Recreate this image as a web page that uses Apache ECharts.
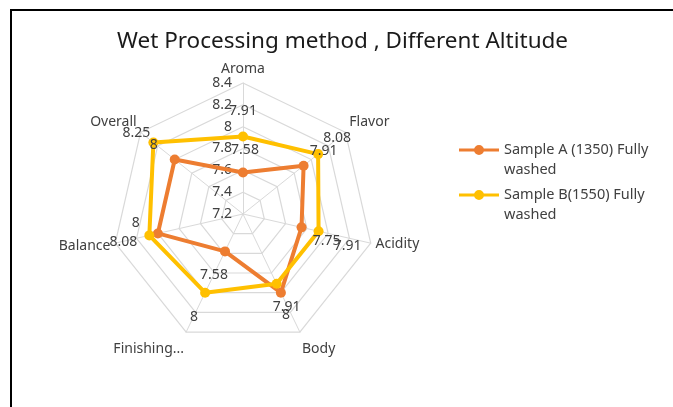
<!DOCTYPE html>
<html>
<head>
<meta charset="utf-8">
<script src="https://cdn.jsdelivr.net/npm/echarts@6/dist/echarts.min.js"></script>
<style>
  html, body { margin: 0; padding: 0; background: #fff; }
  #chart { width: 673px; height: 407px; }
</style>
</head>
<body>
<div id="chart"></div>
<script>
// Cupping attributes, in clockwise order starting at the top
const attributes = ['Aroma', 'Flavor', 'Acidity', 'Body', 'Finishing...', 'Balance', 'Overall'];
const sampleA = [7.58, 7.91, 7.75, 8, 7.58, 8, 8];
const sampleB = [7.91, 8.08, 7.91, 7.91, 8, 8.08, 8.25];
const seriesNames = ['Sample A (1350) Fully\nwashed', 'Sample B(1550) Fully\nwashed'];
const axisMin = 7.2;
const axisMax = 8.4;
const axisSplits = 6;

// Hand-placed value-label nudges (px), per sample, per attribute
const labelNudgeA = [[2, -23], [20, -15], [25, 14], [5, 22], [-11, 24], [-22, -10], [-21, -15]];
const labelNudgeB = [[0, -25], [19, -16], [29, 15], [10, 23], [-11, 24], [-26, 7], [-17, -10]];

// Per-attribute name spacing (rich text padding: top, right, bottom, left)
const namePadding = [[4, 0, 0, 0], [0, 0, 14, 0], [0, 0, 0, 0], [24, 0, 0, 0], [24, 0, 0, 0], [4, 0, 0, 0], [0, 0, 14, 0]];

const colors = ['#ED7D31', '#FFC000'];
const CX = 243, CY = 214, R = 131;
const FONT = 'Noto Sans';

// ECharts lays radar indicators out counter-clockwise, so feed them reversed after the first
function clockwise(arr) { return [arr[0]].concat(arr.slice(1).reverse()); }

const indicators = clockwise(attributes).map(function (name, i) {
  const ind = { name: name, min: axisMin, max: axisMax };
  if (i === 0) {
    ind.axisLabel = {
      show: true, color: '#404040', fontSize: 14, fontFamily: FONT, margin: 11,
      formatter: function (v) { return String(+(+v).toFixed(2)); }
    };
  }
  return ind;
});

const nameRich = {};
attributes.forEach(function (name, i) {
  nameRich['n' + i] = { color: '#404040', fontSize: 14, fontFamily: FONT, padding: namePadding[i] };
});

const nudges = [labelNudgeA, labelNudgeB];
const step = Math.PI * 2 / attributes.length;

const legendIcon = 'path://M0,4H40V7H0Z M15,5.5A5,5,0,1,1,25,5.5A5,5,0,1,1,15,5.5Z';

const chart = echarts.init(document.getElementById('chart'));
chart.setOption({
  animation: false,
  backgroundColor: '#fff',
  color: colors,
  title: {
    text: 'Wet Processing method , Different Altitude',
    left: 112,
    top: 25,
    textStyle: { fontFamily: FONT, fontSize: 22.5, fontWeight: 'normal', color: '#1a1a1a' }
  },
  legend: {
    orient: 'vertical',
    left: 459,
    top: 120,
    padding: 0,
    itemGap: -15,
    itemWidth: 40,
    itemHeight: 11,
    itemStyle: { borderWidth: 0 },
    data: [
      { name: seriesNames[0], icon: legendIcon, itemStyle: { color: colors[0] } },
      { name: seriesNames[1], icon: legendIcon, itemStyle: { color: colors[1] } }
    ],
    // leading blank line keeps the first text line level with the legend marker
    formatter: function (name) { return '\n' + name; },
    textStyle: { fontFamily: FONT, fontSize: 14.5, color: '#404040', lineHeight: 20 }
  },
  radar: {
    center: [CX, CY],
    radius: R,
    startAngle: 90,
    shape: 'polygon',
    splitNumber: axisSplits,
    indicator: indicators,
    axisName: {
      color: '#404040', fontSize: 14, fontFamily: FONT,
      formatter: function (name) { return '{n' + attributes.indexOf(name) + '|' + name + '}'; },
      rich: nameRich
    },
    nameGap: 5,
    axisLine: { lineStyle: { color: '#d9d9d9', width: 1 } },
    splitLine: { lineStyle: { color: '#d9d9d9', width: 1.2 } },
    splitArea: { show: false },
    axisTick: { show: false },
    axisLabel: { show: false }
  },
  series: [{
    type: 'radar',
    symbol: 'circle',
    symbolSize: 10,
    lineStyle: { width: 4 },
    label: {
      show: true,
      position: 'inside',
      color: '#404040',
      fontSize: 14,
      fontFamily: FONT
    },
    labelLayout: function (p) {
      const r = p.rect;
      const x = r.x + r.width / 2 - CX;
      const y = r.y + r.height / 2 - CY;
      let a = Math.atan2(x, -y);
      if (a < 0) a += Math.PI * 2;
      const k = Math.round(a / step) % attributes.length;
      const n = nudges[p.dataIndex][k];
      return { dx: n[0], dy: n[1] };
    },
    data: [
      { name: seriesNames[0], value: clockwise(sampleA),
        itemStyle: { color: colors[0] }, lineStyle: { color: colors[0], width: 4 } },
      { name: seriesNames[1], value: clockwise(sampleB),
        itemStyle: { color: colors[1] }, lineStyle: { color: colors[1], width: 4 } }
    ]
  }],
  graphic: [
    { type: 'line', shape: { x1: 11, y1: 10, x2: 673, y2: 10 }, style: { stroke: '#000', lineWidth: 2 } },
    { type: 'line', shape: { x1: 11, y1: 9, x2: 11, y2: 407 }, style: { stroke: '#000', lineWidth: 2 } }
  ]
});
</script>
</body>
</html>
